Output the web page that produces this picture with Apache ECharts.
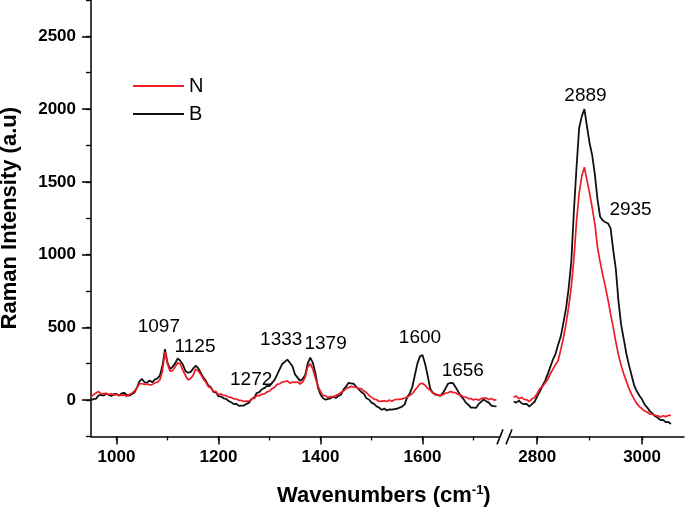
<!DOCTYPE html>
<html>
<head>
<meta charset="utf-8">
<script src="https://cdn.jsdelivr.net/npm/echarts@6/dist/echarts.min.js"></script>
<style>html,body{margin:0;padding:0;background:#fff;}#c{width:685px;height:511px;}</style>
</head>
<body>
<div id="c"></div>
<script>
// ---------- data ----------
const leftWavenumbers = [
  950,955,960,965,970,975,980,985,990,995,
  1000,1005,1010,1015,1020,1025,1030,1035,1040,1045,
  1050,1055,1060,1065,1070,1075,1080,1085,1090,1095,
  1100,1105,1110,1115,1120,1125,1130,1135,1140,1145,
  1150,1155,1160,1165,1170,1175,1180,1185,1190,1195,
  1200,1205,1210,1215,1220,1225,1230,1235,1240,1245,
  1250,1255,1260,1265,1270,1275,1280,1285,1290,1295,
  1300,1305,1310,1315,1320,1325,1330,1335,1340,1345,
  1350,1355,1360,1365,1370,1375,1380,1385,1390,1395,
  1400,1405,1410,1415,1420,1425,1430,1435,1440,1445,
  1450,1455,1460,1465,1470,1475,1480,1485,1490,1495,
  1500,1505,1510,1515,1520,1525,1530,1535,1540,1545,
  1550,1555,1560,1565,1570,1575,1580,1585,1590,1595,
  1600,1605,1610,1615,1620,1625,1630,1635,1640,1645,
  1650,1655,1660,1665,1670,1675,1680,1685,1690,1695,
  1700,1705,1710,1715,1720,1725,1730,1735,1740,1745
];
const leftB = [
  0,6,10,32,36,30,44,34,28,40,
  42,30,46,50,36,30,40,52,84,128,
  145,122,120,134,122,140,148,168,232,350,
  255,212,228,252,286,270,244,200,188,192,
  214,236,220,188,156,134,100,88,56,52,
  26,24,12,8,-8,-15,-28,-26,-40,-38,
  -38,-26,-18,8,16,48,54,74,82,98,
  96,118,138,174,212,248,262,278,256,232,
  176,154,132,144,172,252,292,256,184,86,
  38,12,2,8,12,24,14,28,36,72,
  92,118,114,112,92,74,56,44,12,4,
  -18,-26,-44,-52,-68,-58,-72,-64,-66,-62,
  -60,-52,-45,-30,20,45,90,170,250,300,
  310,250,170,80,50,38,36,28,48,78,
  112,118,116,88,58,28,8,-18,-32,-52,
  -52,-54,-28,-12,4,-8,-18,-38,-42,-44
];
const leftN = [
  22,38,48,58,42,44,46,36,44,34,
  38,34,32,36,26,38,46,62,82,112,
  112,108,110,104,106,118,122,138,198,330,
  248,198,202,228,256,248,206,172,138,148,
  168,212,202,178,146,124,92,84,62,58,
  36,42,32,30,20,18,8,7,-2,-3,
  -10,-8,-7,8,12,30,30,40,42,55,
  62,78,88,108,112,124,126,132,116,124,
  122,124,110,124,158,228,250,212,152,98,
  58,32,28,18,24,22,32,38,52,62,
  78,86,94,88,88,80,78,62,52,32,
  18,6,2,-10,-8,-6,-10,0,-8,2,
  4,4,8,14,18,32,44,68,88,112,
  115,102,82,68,48,42,32,33,36,47,
  50,58,53,50,38,36,22,20,10,10,
  0,7,-2,10,13,14,3,10,0,2
];
const rightWavenumbers = [
  2755,2760,2765,2770,2775,2780,2785,2790,2795,2800,
  2805,2810,2815,2820,2825,2830,2835,2840,2845,2850,
  2855,2860,2865,2870,2875,2880,2885,2890,2895,2900,
  2905,2910,2915,2920,2925,2930,2935,2940,2945,2950,
  2955,2960,2965,2970,2975,2980,2985,2990,2995,3000,
  3005,3010,3015,3020,3025,3030,3035,3040,3045,3050,3055
];
const rightB = [
  -10,-18,-4,-22,-28,-26,-45,-28,-12,25,
  58,98,132,178,228,278,318,382,438,532,
  630,770,950,1300,1600,1870,1950,2000,1880,1765,
  1680,1550,1380,1260,1235,1222,1215,1180,1030,900,
  680,520,420,320,240,170,100,60,30,5,
  -32,-52,-78,-92,-112,-122,-138,-136,-152,-150,-165
];
const rightN = [
  20,28,8,18,4,2,-10,8,18,45,
  78,92,118,142,182,212,244,272,348,428,
  525,640,780,970,1230,1420,1540,1600,1510,1420,
  1320,1210,1050,950,860,780,690,590,500,400,
  310,240,180,130,80,40,5,-25,-45,-60,
  -76,-84,-97,-98,-106,-108,-117,-108,-114,-106,-105
];
const yTicks = [0, 500, 1000, 1500, 2000, 2500];
const leftXTicks = [1000, 1200, 1400, 1600];
const rightXTicks = [2800, 3000];
// peak annotation labels: text and anchor [wavenumber, intensity]
const peakLabelsLeft = [
  ['1097', 1083, 501], ['1125', 1154, 364], ['1272', 1264, 137],
  ['1333', 1323, 412], ['1379', 1410, 385], ['1600', 1595, 426],
  ['1656', 1679, 199]
];
const peakLabelsRight = [['2889', 2892, 2095], ['2935', 2978, 1305]];

// ---------- chart ----------
const FONT = "'Liberation Sans', Arial, sans-serif";
const RED = '#ee1c25', BLACK = '#111111';
const chart = echarts.init(document.getElementById('c'), null, {renderer: 'canvas'});
const pair = (xs, ys) => xs.map((x, i) => [x, ys[i]]);

const H = 436.4, TOP = 0;
const pxL = 408 / 800, pxR = 173 / 330;
const G = (o) => Object.assign({outerBoundsMode: 'none', containLabel: false}, o);
const gL = G({left: 91, top: TOP, width: 408, height: H});
const gR = G({left: 511, top: TOP, width: 173, height: H});
const gY = G({left: 91, top: TOP + H * (250 / 3000), width: 408, height: H * (2500 / 3000)});
const gLminor = G({left: 91 + 50 * pxL, top: TOP, width: 700 * pxL, height: H});
const gLmajor = G({left: 91 + 50 * pxL, top: TOP, width: 600 * pxL, height: H});
const gRtick = G({left: 511 + 50 * pxR, top: TOP, width: 200 * pxR, height: H});

const axisLine = {show: true, onZero: false, lineStyle: {color: '#000', width: 1.5}};
const hidden = {show: false};
const hiddenX = (gi) => ({type: 'value', gridIndex: gi, show: false, min: 0, max: 1});
const hiddenY = (gi) => ({type: 'value', gridIndex: gi, show: false, min: 0, max: 1});
const tickLabel = {show: true, fontFamily: FONT, fontWeight: 'bold', fontSize: 17, color: '#000',
                   formatter: (v) => String(v)};

const labelSeries = (list, xi, yi) => ({
  type: 'scatter', xAxisIndex: xi, yAxisIndex: yi, silent: true,
  symbolSize: 1, itemStyle: {color: 'transparent'},
  data: list.map(p => ({name: p[0], value: [p[1], p[2]]})),
  label: {show: true, position: 'inside', formatter: '{b}', fontFamily: FONT,
          fontSize: 19, color: '#000', textBorderWidth: 0, opacity: 1}
});

const option = {
  animation: false,
  backgroundColor: '#fff',
  title: {
    text: '{a|Wavenumbers (cm}{s|-1}{a|)}',
    left: 277, top: 484, padding: 0,
    textStyle: {rich: {
      a: {fontFamily: FONT, fontWeight: 'bold', fontSize: 22, color: '#000', lineHeight: 24},
      s: {fontFamily: FONT, fontWeight: 'bold', fontSize: 13, color: '#000', verticalAlign: 'top', lineHeight: 14}
    }}
  },
  legend: {
    data: ['N', 'B'], orient: 'vertical', left: 133, top: 76, padding: 0,
    icon: 'rect', itemWidth: 51, itemHeight: 2, itemGap: 8,
    textStyle: {fontFamily: FONT, fontSize: 20, color: '#000', lineHeight: 20}
  },
  grid: [gL, gR, gY, gLminor, gLmajor, gRtick, gRtick],
  xAxis: [
    {type: 'value', gridIndex: 0, min: 950, max: 1750, axisLine, axisTick: hidden, axisLabel: hidden, splitLine: hidden},
    {type: 'value', gridIndex: 1, min: 2750, max: 3080, axisLine, axisTick: hidden, axisLabel: hidden, splitLine: hidden},
    hiddenX(2),
    {type: 'value', gridIndex: 3, min: 1000, max: 1700, interval: 100, axisLine: hidden,
     axisTick: {show: true, length: 4, lineStyle: {color: '#000', width: 1.3}}, axisLabel: hidden, splitLine: hidden},
    {type: 'value', gridIndex: 4, min: leftXTicks[0], max: leftXTicks[leftXTicks.length - 1], interval: 200, axisLine: hidden,
     axisTick: {show: true, length: 8, lineStyle: {color: '#000', width: 1.5}},
     axisLabel: Object.assign({margin: 12}, tickLabel), splitLine: hidden},
    {type: 'value', gridIndex: 5, min: 2800, max: 3000, interval: 100, axisLine: hidden,
     axisTick: {show: true, length: 4, lineStyle: {color: '#000', width: 1.3}}, axisLabel: hidden, splitLine: hidden},
    {type: 'value', gridIndex: 6, min: rightXTicks[0], max: rightXTicks[rightXTicks.length - 1], interval: 200, axisLine: hidden,
     axisTick: {show: true, length: 8, lineStyle: {color: '#000', width: 1.5}},
     axisLabel: Object.assign({margin: 12}, tickLabel), splitLine: hidden}
  ],
  yAxis: [
    {type: 'value', gridIndex: 0, min: -250, max: 2750, interval: 250, axisLine,
     axisTick: {show: true, length: 5, lineStyle: {color: '#000', width: 1.3}}, axisLabel: hidden, splitLine: hidden,
     name: 'Raman Intensity (a.u)', nameLocation: 'middle', nameGap: 70,
     nameTextStyle: {fontFamily: FONT, fontWeight: 'bold', fontSize: 22, color: '#000'}},
    {type: 'value', gridIndex: 1, min: -250, max: 2750, show: false},
    {type: 'value', gridIndex: 2, min: yTicks[0], max: yTicks[yTicks.length - 1], interval: 500, axisLine: hidden,
     axisTick: {show: true, length: 9, lineStyle: {color: '#000', width: 1.5}},
     axisLabel: Object.assign({margin: 15}, tickLabel), splitLine: hidden},
    hiddenY(3), hiddenY(4), hiddenY(5), hiddenY(6)
  ],
  series: [
    {name: 'B', type: 'line', xAxisIndex: 0, yAxisIndex: 0, data: pair(leftWavenumbers, leftB),
     showSymbol: false, symbol: 'none', itemStyle: {color: BLACK}, lineStyle: {color: BLACK, width: 1.8}},
    {name: 'B', type: 'line', xAxisIndex: 1, yAxisIndex: 1, data: pair(rightWavenumbers, rightB),
     showSymbol: false, symbol: 'none', itemStyle: {color: BLACK}, lineStyle: {color: BLACK, width: 1.8}},
    {name: 'N', type: 'line', xAxisIndex: 0, yAxisIndex: 0, data: pair(leftWavenumbers, leftN),
     showSymbol: false, symbol: 'none', itemStyle: {color: RED}, lineStyle: {color: RED, width: 1.7}},
    {name: 'N', type: 'line', xAxisIndex: 1, yAxisIndex: 1, data: pair(rightWavenumbers, rightN),
     showSymbol: false, symbol: 'none', itemStyle: {color: RED}, lineStyle: {color: RED, width: 1.7}},
    labelSeries(peakLabelsLeft, 0, 0),
    labelSeries(peakLabelsRight, 1, 1)
  ]
};
chart.setOption(option);

// axis break marks "//" placed from the axes' own positions
const xEndL = chart.convertToPixel({xAxisIndex: 0}, 1750);
const xStartR = chart.convertToPixel({xAxisIndex: 1}, 2750);
const yBase = chart.convertToPixel({yAxisIndex: 0}, -250);
const slash = (x) => ({type: 'line', shape: {x1: x - 3, y1: yBase + 8, x2: x + 3, y2: yBase - 7},
  style: {stroke: '#000', lineWidth: 1.5}});
chart.setOption({graphic: [slash(xEndL + 1), slash(xStartR - 2)]});
</script>
</body>
</html>
